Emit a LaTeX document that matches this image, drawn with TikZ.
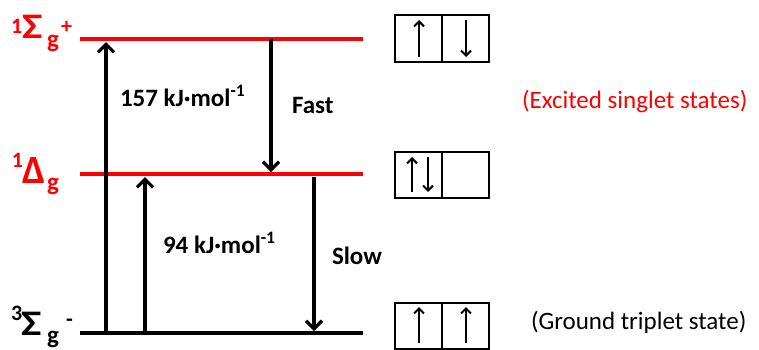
\documentclass[tikz,border=0pt]{standalone}
\usepackage{fontspec}
\setmainfont{Carlito}
\usetikzlibrary{arrows.meta}
\begin{document}
\begin{tikzpicture}[x=1pt,y=-1pt,
  lvl/.style={line width=4pt},
  trans/.style={line width=3.2pt,-{Straight Barb[length=8pt,width=16pt]}},
  spin/.style={line width=2pt,-{Straight Barb[length=5pt,width=10pt]}},
  spinbox/.style={draw,line width=1.3pt},
  txt/.style={inner sep=0pt,outer sep=0pt,anchor=base west},
  lbl/.style={txt,font=\fontsize{25}{25}\selectfont\bfseries},
  note/.style={txt,font=\fontsize{25}{25}\selectfont},
  sup/.style={txt,font=\fontsize{22}{22}\selectfont\bfseries},
  big/.style={txt,font=\fontsize{36}{36}\selectfont\bfseries},
  sub/.style={txt,font=\fontsize{25}{25}\selectfont\bfseries},
  ]
\useasboundingbox (0,0) rectangle (759,349);
% level end points
\coordinate (Ta) at (80,39);  \coordinate (Tb) at (363,39);
\coordinate (Ma) at (80,174); \coordinate (Mb) at (363,174);
\coordinate (Ga) at (80,333); \coordinate (Gb) at (363,333);
\draw[lvl,red] (Ta) -- (Tb);
\draw[lvl,red] (Ma) -- (Mb);
\draw[lvl,black] (Ga) -- (Gb);
% transitions
\coordinate (u1s) at (106,333); \coordinate (u1e) at (106,42);
\coordinate (d1s) at (271,39);  \coordinate (d1e) at (271,172);
\coordinate (u2s) at (145,333); \coordinate (u2e) at (145,177);
\coordinate (d2s) at (314,177); \coordinate (d2e) at (314,331);
\draw[trans] (u1s) -- (u1e);
\draw[trans] (d1s) -- (d1e);
\draw[trans] (u2s) -- (u2e);
\draw[trans] (d2s) -- (d2e);
% transition labels
\node[lbl] (e1) at (120,106) {157 kJ·mol\textsuperscript{-1}};
\node[lbl] (fast) at (292,113) {Fast};
\node[lbl] (e2) at (163,253) {94 kJ·mol\textsuperscript{-1}};
\node[lbl] (slow) at (332,264) {Slow};
% notes
\node[note,red] (exc) at (522,108) {(Excited singlet states)};
\node[note] (gnd) at (531,329) {(Ground triplet state)};
% state labels
\node[sup,red] (t1) at (11,33) {1};
\node[big,red] (tS) at (22,38) {\scalebox{1.2}[1]{Σ}};
\node[sub,red] (tg) at (47,47) {g};
\node[sup,red] (tp) at (61,33) {+};
\node[sup,red] (m1) at (12,167) {1};
\node[big,red,font=\fontsize{40}{40}\selectfont\bfseries] (mD) at (22,183) {Δ};
\node[sub,red] (mg) at (47,190) {g};
\node[sup] (b3) at (11,320) {3};
\node[big] (bS) at (21,335) {\scalebox{1.2}[1]{Σ}};
\node[sub] (bg) at (47,343) {g};
\node[sup] (bm) at (66,326) {-};
% spin boxes
\node[spinbox,minimum width=94pt,minimum height=47pt,inner sep=0pt] (B1) at (442,38.5) {};
\node[spinbox,minimum width=94pt,minimum height=46pt,inner sep=0pt] (B2) at (442,175) {};
\node[spinbox,minimum width=94pt,minimum height=46pt,inner sep=0pt] (B3) at (442,326) {};
\draw[line width=1.3pt] (B1.north) -- (B1.south);
\draw[line width=1.3pt] (B2.north) -- (B2.south);
\draw[line width=1.3pt] (B3.north) -- (B3.south);
% spins
\coordinate (a1) at (419,57); \coordinate (a2) at (419,20);
\coordinate (a3) at (466,20); \coordinate (a4) at (466,57);
\draw[spin] (a1) -- (a2);
\draw[spin] (a3) -- (a4);
\coordinate (b1) at (412,192); \coordinate (b2) at (412,157);
\coordinate (b3c) at (428,157); \coordinate (b4) at (428,192);
\draw[spin] (b1) -- (b2);
\draw[spin] (b3c) -- (b4);
\coordinate (c1) at (419,343); \coordinate (c2) at (419,307);
\coordinate (c3) at (466,343); \coordinate (c4) at (466,307);
\draw[spin] (c1) -- (c2);
\draw[spin] (c3) -- (c4);
\end{tikzpicture}
\end{document}
